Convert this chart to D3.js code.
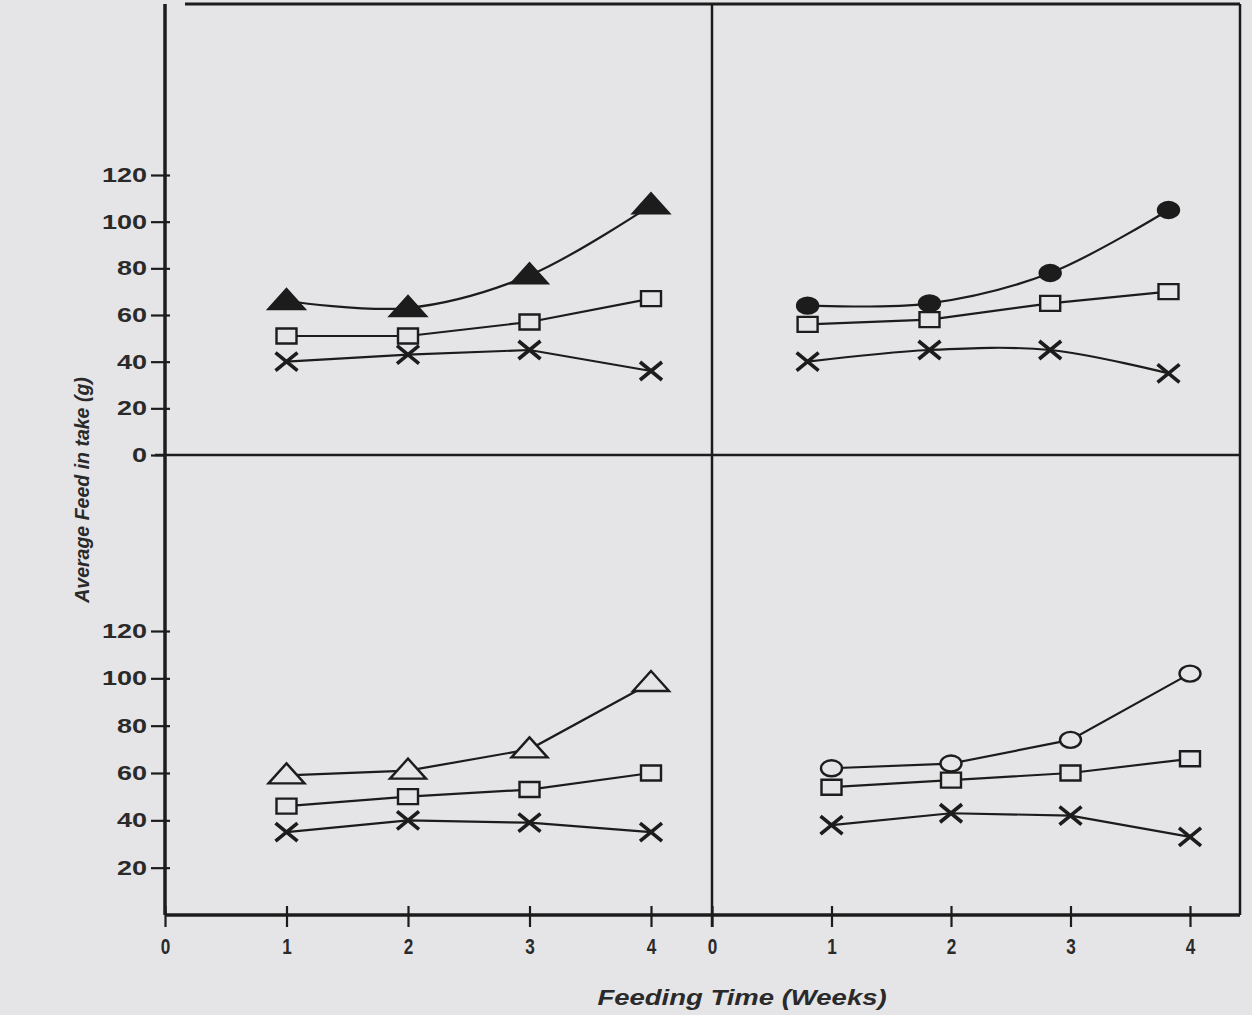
<!DOCTYPE html>
<html>
<head>
<meta charset="utf-8">
<script src="https://cdn.jsdelivr.net/npm/d3@7"></script>
<style>
  body { margin: 0; background: #e5e5e7; }
  svg { display: block; }
  text { font-family: "Liberation Sans", Arial, sans-serif; font-weight: bold; fill: #2a2a2a; }
</style>
</head>
<body>
<svg id="chart" width="1252" height="1015"></svg>
<script>
// tick labels
var yTicks = [0, 20, 40, 60, 80, 100, 120];
var xTicks = [0, 1, 2, 3, 4];

// top left panel
var tlWeeks = [1, 2, 3, 4];
var tlTriangle = [66, 63, 77, 107];
var tlSquare = [51, 51, 57, 67];
var tlCross = [40, 43, 45, 36];

// top right panel
var trWeeks = [0.8, 1.82, 2.83, 3.82];
var trCircle = [64, 65, 78, 105];
var trSquare = [56, 58, 65, 70];
var trCross = [40, 45, 45, 35];

// bottom left panel
var blWeeks = [1, 2, 3, 4];
var blTriangle = [59, 61, 70, 98];
var blSquare = [46, 50, 53, 60];
var blCross = [35, 40, 39, 35];

// bottom right panel
var brWeeks = [1, 2, 3, 4];
var brCircle = [62, 64, 74, 102];
var brSquare = [54, 57, 60, 66];
var brCross = [38, 43, 42, 33];

var svg = d3.select("#chart");
var ink = "#1c1c1c";
var bg = "#e5e5e7";

var leftX = 165, midX = 712, rightX = 1240;
var topY = 4, midY = 455, botY = 915;

var xLeft = d3.scaleLinear().domain([0, 4]).range([leftX, 651]);
var xRight = d3.scaleLinear().domain([0, 4]).range([midX, 1190]);
var yTop = d3.scaleLinear().domain([0, 120]).range([midY, 175]);
var yBot = d3.scaleLinear().domain([0, 120]).range([botY, 631]);

// frame
var frame = svg.append("g").attr("stroke", ink).attr("fill", "none");
frame.append("line").attr("x1", 185).attr("x2", rightX).attr("y1", topY).attr("y2", topY).attr("stroke-width", 3);
frame.append("line").attr("x1", rightX).attr("x2", rightX).attr("y1", topY).attr("y2", botY).attr("stroke-width", 2.5);
frame.append("line").attr("x1", leftX).attr("x2", leftX).attr("y1", topY).attr("y2", botY).attr("stroke-width", 3.5);
frame.append("line").attr("x1", midX).attr("x2", midX).attr("y1", topY).attr("y2", botY + 12).attr("stroke-width", 2.5);
frame.append("line").attr("x1", leftX - 10).attr("x2", rightX).attr("y1", midY).attr("y2", midY).attr("stroke-width", 2.5);
frame.append("line").attr("x1", leftX).attr("x2", rightX).attr("y1", botY).attr("y2", botY).attr("stroke-width", 3.5);

// y axes (labels are wide in the print, so stretch them)
var ySquash = 1.35;
function yAxis(scale, ticks) {
  var g = svg.append("g").attr("transform", "translate(" + leftX + ",0)")
    .call(d3.axisLeft(scale).tickValues(ticks).tickSize(14).tickPadding(3));
  g.select(".domain").remove();
  g.selectAll(".tick line").attr("stroke", ink).attr("stroke-width", 2.2).attr("x2", -14).attr("x1", 5);
  g.selectAll(".tick text")
    .attr("font-size", 20).attr("fill", "#2a2a2a")
    .attr("font-family", "Liberation Sans, Arial, sans-serif")
    .attr("x", -18 / ySquash)
    .attr("transform", "scale(" + ySquash + ",1)");
  return g;
}
var gTop = yAxis(yTop, yTicks);
gTop.selectAll(".tick").filter(function(d) { return d === 0; }).select("line").attr("x1", 0);
yAxis(yBot, yTicks.slice(1));

// x axes (labels are narrow in the print)
function xAxis(scale) {
  var g = svg.append("g").attr("transform", "translate(0," + botY + ")")
    .call(d3.axisBottom(scale).tickValues(xTicks).tickFormat(d3.format("d")).tickSize(12).tickPadding(11));
  g.select(".domain").remove();
  g.selectAll(".tick line").attr("stroke", ink).attr("stroke-width", 2.2).attr("y1", -9);
  g.selectAll(".tick text")
    .attr("font-size", 22).attr("fill", "#2a2a2a")
    .attr("font-family", "Liberation Sans, Arial, sans-serif")
    .attr("transform", "scale(0.78,1)");
  return g;
}
xAxis(xLeft);
xAxis(xRight);

// axis titles
svg.append("text").attr("transform", "translate(89,490) rotate(-90) scale(0.93,1)")
  .attr("text-anchor", "middle").attr("font-size", 21).attr("font-style", "italic")
  .text("Average Feed in take (g)");
svg.append("text").attr("transform", "translate(742,1005) scale(1.25,1)")
  .attr("text-anchor", "middle").attr("font-size", 22).attr("font-style", "italic")
  .text("Feeding Time (Weeks)");

// markers
function markerPath(kind) {
  if (kind === "triangle") return "M0,-12L18,8L-18,8Z";
  if (kind === "square") return "M-10,-7.5H10V7.5H-10Z";
  if (kind === "cross") return "M-11,-9L11,9M-11,9L11,-9";
  if (kind === "circle") return "M-10.5,0A10.5,8 0 1,0 10.5,0A10.5,8 0 1,0 -10.5,0Z";
}

function series(xs, ys, weeks, values, kind, filled, smooth) {
  var pts = weeks.map(function(w, i) { return [xs(w), ys(values[i])]; });
  var line = d3.line().curve(smooth ? d3.curveCatmullRom.alpha(0.5) : d3.curveLinear);
  svg.append("path").attr("d", line(pts)).attr("fill", "none")
    .attr("stroke", ink).attr("stroke-width", 2.2);
  svg.append("g").selectAll("path").data(pts).enter().append("path")
    .attr("transform", function(d) { return "translate(" + d[0] + "," + d[1] + ")"; })
    .attr("d", markerPath(kind))
    .attr("fill", kind === "cross" ? "none" : (filled ? ink : bg))
    .attr("stroke", ink)
    .attr("stroke-width", kind === "cross" ? 3.6 : 2.4);
}

series(xLeft, yTop, tlWeeks, tlSquare, "square", false, false);
series(xLeft, yTop, tlWeeks, tlCross, "cross", false, false);
series(xLeft, yTop, tlWeeks, tlTriangle, "triangle", true, true);

series(xRight, yTop, trWeeks, trSquare, "square", false, false);
series(xRight, yTop, trWeeks, trCross, "cross", false, true);
series(xRight, yTop, trWeeks, trCircle, "circle", true, true);

series(xLeft, yBot, blWeeks, blSquare, "square", false, false);
series(xLeft, yBot, blWeeks, blCross, "cross", false, false);
series(xLeft, yBot, blWeeks, blTriangle, "triangle", false, false);

series(xRight, yBot, brWeeks, brSquare, "square", false, false);
series(xRight, yBot, brWeeks, brCross, "cross", false, false);
series(xRight, yBot, brWeeks, brCircle, "circle", false, false);
</script>
</body>
</html>
